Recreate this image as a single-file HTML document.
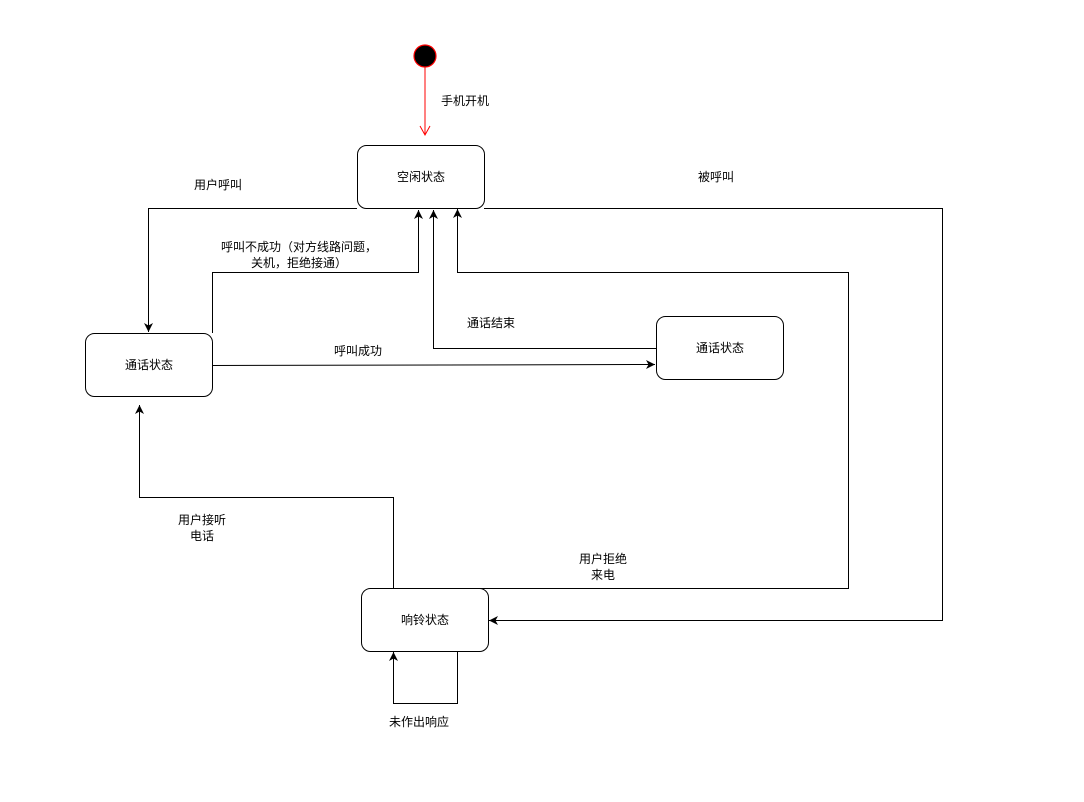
<!DOCTYPE html>
<html><head><meta charset="utf-8"><style>
html,body{margin:0;padding:0;background:#fff;}
svg text{font-family:"Liberation Sans","Noto Sans CJK SC",sans-serif;font-size:12px;fill:#000;}
</style></head><body>
<svg width="1084" height="797" viewBox="0 0 1084 797" xmlns="http://www.w3.org/2000/svg">
<defs>
<marker id="a" markerWidth="10" markerHeight="10" refX="9" refY="5" orient="auto" markerUnits="userSpaceOnUse"><path d="M0,0.5 L9,5 L0,9.5 L2.5,5 Z" fill="#000"/></marker>
<marker id="r" markerWidth="12" markerHeight="12" refX="10" refY="6" orient="auto" markerUnits="userSpaceOnUse"><path d="M1,1 L10,6 L1,11" fill="none" stroke="#f00"/></marker>
</defs>
<circle cx="425" cy="56" r="11" fill="#000" stroke="#f00" stroke-width="1.2"/>
<line x1="425" y1="67" x2="425" y2="135" stroke="#f00" marker-end="url(#r)"/>
<text x="441" y="105">手机开机</text>
<g fill="none" stroke="#000" stroke-width="1">
<rect x="357.5" y="145.5" width="127" height="63" rx="9"/>
<rect x="85.5" y="333.5" width="127" height="63" rx="9"/>
<rect x="656.5" y="316.5" width="127" height="63" rx="9"/>
<rect x="361.5" y="588.5" width="127" height="63" rx="9"/>
<polyline points="357,208.5 148.5,208.5 148.5,332" marker-end="url(#a)"/>
<polyline points="212.5,333 212.5,272.5 418.5,272.5 418.5,210" marker-end="url(#a)"/>
<polyline points="212,365.5 655,364.5" marker-end="url(#a)"/>
<polyline points="656,348.5 433.5,348.5 433.5,210" marker-end="url(#a)"/>
<polyline points="480,588.5 848.5,588.5 848.5,272.5 457.5,272.5 457.5,209" marker-end="url(#a)"/>
<polyline points="484,208.5 942.5,208.5 942.5,620.5 489,620.5" marker-end="url(#a)"/>
<polyline points="393.5,588 393.5,497.5 139.5,497.5 139.5,405" marker-end="url(#a)"/>
<polyline points="457.5,651 457.5,703.5 393.5,703.5 393.5,652" marker-end="url(#a)"/>
</g>
<text x="421" y="181" text-anchor="middle">空闲状态</text>
<text x="149" y="369" text-anchor="middle">通话状态</text>
<text x="720" y="352" text-anchor="middle">通话状态</text>
<text x="425" y="624" text-anchor="middle">响铃状态</text>
<text x="218" y="189" text-anchor="middle">用户呼叫</text>
<text x="299" y="251" text-anchor="middle">呼叫不成功（对方线路问题，</text>
<text x="299" y="267" text-anchor="middle">关机，拒绝接通）</text>
<text x="358" y="355" text-anchor="middle">呼叫成功</text>
<text x="491" y="327" text-anchor="middle">通话结束</text>
<text x="716" y="181" text-anchor="middle">被呼叫</text>
<text x="202" y="524" text-anchor="middle">用户接听</text>
<text x="202" y="540" text-anchor="middle">电话</text>
<text x="603" y="563" text-anchor="middle">用户拒绝</text>
<text x="603" y="579" text-anchor="middle">来电</text>
<text x="419" y="726" text-anchor="middle">未作出响应</text>
</svg>
</body></html>
